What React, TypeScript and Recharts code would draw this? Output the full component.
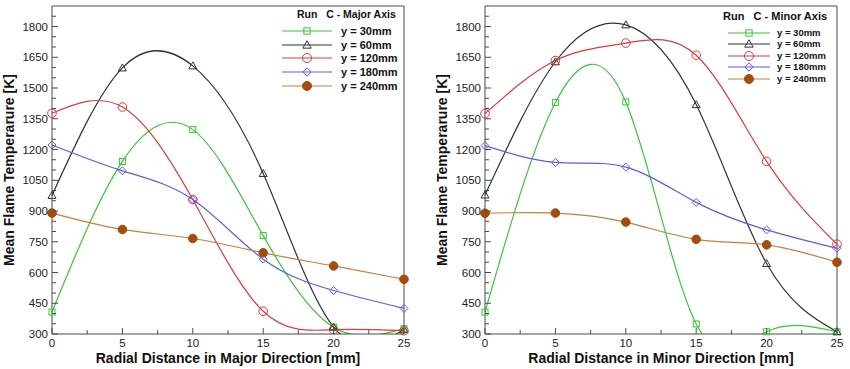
import { LineChart, Line, XAxis, YAxis, Label } from "recharts";

// ==============================
// DATA
// ==============================
const radialDistance = [0, 5, 10, 15, 20, 25];

const seriesLabels = ["y = 30mm", "y = 60mm", "y = 120mm", "y = 180mm", "y = 240mm"];

// Major axis
const majorY30 = [407, 1142, 1297, 780, 333, 326];
const majorY60 = [976, 1598, 1608, 1083, 334, 321];
const majorY120 = [1377, 1407, 956, 411, 321, 316];
const majorY180 = [1222, 1096, 956, 665, 512, 425];
const majorY240 = [890, 810, 766, 696, 632, 567];

// Minor axis
const minorY30 = [407, 1429, 1432, 349, 311, 311];
const minorY60 = [978, 1628, 1808, 1419, 644, 311];
const minorY120 = [1375, 1634, 1719, 1660, 1142, 738];
const minorY180 = [1219, 1137, 1114, 942, 808, 718];
const minorY240 = [889, 890, 846, 762, 735, 650];

const xTicks = [0, 2.5, 5, 7.5, 10, 12.5, 15, 17.5, 20, 22.5, 25];
const yTicks = [
    300, 350, 400, 450, 500, 550, 600, 650, 700, 750, 800, 850, 900, 950, 1000, 1050,
    1100, 1150, 1200, 1250, 1300, 1350, 1400, 1450, 1500, 1550, 1600, 1650, 1700,
    1750, 1800, 1850
];

const FONT = "'Liberation Sans', Arial, Helvetica, sans-serif";
const AXIS = "#4a4a4a";

type Kind = "square" | "triangle" | "circle" | "diamond" | "dot";

const STYLES: { key: string; kind: Kind; color: string; fill: string }[] = [
    { key: "y30", kind: "square", color: "#35c935", fill: "none" },
    { key: "y60", kind: "triangle", color: "#333333", fill: "none" },
    { key: "y120", kind: "circle", color: "#e03a3a", fill: "none" },
    { key: "y180", kind: "diamond", color: "#5b5bef", fill: "none" },
    { key: "y240", kind: "dot", color: "#c0813f", fill: "#a24d0c" }
];

const buildRows = (cols: number[][]) =>
    radialDistance.map((x, i) => ({
        x,
        y30: cols[0][i],
        y60: cols[1][i],
        y120: cols[2][i],
        y180: cols[3][i],
        y240: cols[4][i]
    }));

const majorData = buildRows([majorY30, majorY60, majorY120, majorY180, majorY240]);
const minorData = buildRows([minorY30, minorY60, minorY120, minorY180, minorY240]);

// ==============================
// MARKERS
// ==============================
function Marker({ kind, cx, cy, color, fill, s = 1 }: any) {
    if (kind === "square") {
        const h = 3 * s;
        return <rect x={cx - h} y={cy - h} width={2 * h} height={2 * h} fill="none" stroke={color} strokeWidth={1} />;
    }
    if (kind === "triangle") {
        const h = 4 * s;
        return (
            <path
                d={`M${cx},${cy - h} L${cx + h},${cy + h * 0.75} L${cx - h},${cy + h * 0.75} Z`}
                fill="none"
                stroke={color}
                strokeWidth={1}
            />
        );
    }
    if (kind === "circle") {
        return <circle cx={cx} cy={cy} r={4.3 * s} fill="none" stroke={color} strokeWidth={1} />;
    }
    if (kind === "diamond") {
        const h = 4 * s;
        return (
            <path
                d={`M${cx},${cy - h} L${cx + h},${cy} L${cx},${cy + h} L${cx - h},${cy} Z`}
                fill="none"
                stroke={color}
                strokeWidth={1}
            />
        );
    }
    return <circle cx={cx} cy={cy} r={4.3 * s} fill={fill} stroke={fill} strokeWidth={1} />;
}

// ==============================
// TICKS
// ==============================
const XTick = (p: any) => {
    const v = p.payload.value;
    const major = v % 5 === 0;
    const x = p.payload.coordinate ?? p.x;
    return (
        <g>
            <line x1={x} x2={x} y1={p.y} y2={p.y - (major ? 6 : 4)} stroke={AXIS} />
            {major && (
                <text x={x} y={p.y + 13} textAnchor="middle" fontSize={11.5} fontFamily={FONT} fill="#222">
                    {v}
                </text>
            )}
        </g>
    );
};

const YTick = (p: any) => {
    const v = p.payload.value;
    const major = v % 150 === 0;
    return (
        <g>
            <line x1={p.x} x2={p.x + (major ? 6 : 4)} y1={p.y} y2={p.y} stroke={AXIS} />
            {major && (
                <text x={p.x - 4} y={p.y} dy="0.36em" textAnchor="end" fontSize={11.5} fontFamily={FONT} fill="#222">
                    {v}
                </text>
            )}
        </g>
    );
};

// ==============================
// LEGEND
// ==============================
type LegendProps = {
    title: string;
    titleLeft: number;
    titleY: number;
    titleSize: number;
    rowY: number;
    rowGap: number;
    lineLeft: number;
    lineWidth: number;
    textLeft: number;
    textSize: number;
};

function LegendBox(p: LegendProps) {
    return (
        <div style={{ position: "absolute", left: 0, top: 0, fontFamily: FONT, fontWeight: 700, color: "#111" }}>
            <div
                style={{
                    position: "absolute",
                    left: p.titleLeft,
                    top: p.titleY - 8,
                    height: 16,
                    lineHeight: "16px",
                    fontSize: p.titleSize,
                    whiteSpace: "pre"
                }}
            >
                {p.title}
            </div>
            {STYLES.map((st, i) => {
                const cy = p.rowY + i * p.rowGap;
                return (
                    <div key={st.key}>
                        <svg
                            width={p.lineWidth}
                            height={12}
                            style={{ position: "absolute", left: p.lineLeft, top: cy - 6, overflow: "visible" }}
                        >
                            <line x1={0} x2={p.lineWidth} y1={6} y2={6} stroke={st.color} strokeWidth={1.2} />
                            <Marker kind={st.kind} cx={p.lineWidth / 2} cy={6} color={st.color} fill={st.fill} s={1.05} />
                        </svg>
                        <div
                            style={{
                                position: "absolute",
                                left: p.textLeft,
                                top: cy - 7,
                                height: 14,
                                lineHeight: "14px",
                                fontSize: p.textSize,
                                whiteSpace: "pre"
                            }}
                        >
                            {seriesLabels[i]}
                        </div>
                    </div>
                );
            })}
        </div>
    );
}

// ==============================
// ONE PANEL
// ==============================
function Panel({ data, xTitle, left, right }: any) {
    return (
        <LineChart width={425} height={369} data={data} margin={{ top: 0, right: 0, bottom: 0, left: 0 }}>
            <XAxis
                dataKey="x"
                type="number"
                domain={[0, 25]}
                ticks={xTicks}
                interval={0}
                height={35}
                tickSize={0}
                tickMargin={0}
                tickLine={false}
                tick={XTick}
                axisLine={{ stroke: AXIS }}
            >
                <Label
                    content={(lp: any) => (
                        <text
                            x={lp.viewBox.x + lp.viewBox.width / 2}
                            y={lp.viewBox.y + 29}
                            textAnchor="middle"
                            fontSize={14}
                            fontWeight={700}
                            fontFamily={FONT}
                            fill="#111"
                        >
                            {xTitle}
                        </text>
                    )}
                />
            </XAxis>
            <XAxis
                xAxisId="frame"
                orientation="top"
                type="number"
                domain={[0, 25]}
                height={6}
                tick={false}
                tickLine={false}
                axisLine={{ stroke: AXIS }}
            />
            <YAxis
                yAxisId="main"
                orientation="left"
                type="number"
                domain={[300, 1900]}
                ticks={yTicks}
                interval={0}
                width={left}
                tickSize={0}
                tickMargin={0}
                tickLine={false}
                tick={YTick}
                axisLine={{ stroke: AXIS }}
            >
                <Label
                    content={(lp: any) => {
                        const cx = lp.viewBox.x + lp.viewBox.width - 43;
                        const cy = lp.viewBox.y + lp.viewBox.height / 2;
                        return (
                            <text
                                x={cx}
                                y={cy}
                                transform={`rotate(-90 ${cx} ${cy})`}
                                textAnchor="middle"
                                dy="0.36em"
                                fontSize={14}
                                fontWeight={700}
                                fontFamily={FONT}
                                fill="#111"
                            >
                                Mean Flame Temperarure [K]
                            </text>
                        );
                    }}
                />
            </YAxis>
            <YAxis
                yAxisId="frame"
                orientation="right"
                type="number"
                domain={[300, 1900]}
                allowDataOverflow
                width={right}
                tick={false}
                tickLine={false}
                axisLine={{ stroke: AXIS }}
            />

            {/* CURVES (clipped to plot) */}
            {STYLES.map((st) => (
                <Line
                    key={`c-${st.key}`}
                    yAxisId="frame"
                    type="natural"
                    dataKey={st.key}
                    stroke={st.color}
                    strokeWidth={1.2}
                    dot={false}
                    activeDot={false}
                    isAnimationActive={false}
                />
            ))}

            {/* MARKERS (not clipped) */}
            {STYLES.map((st) => (
                <Line
                    key={`m-${st.key}`}
                    yAxisId="main"
                    type="linear"
                    dataKey={st.key}
                    stroke="none"
                    activeDot={false}
                    isAnimationActive={false}
                    dot={(dp: any) => (
                        <Marker key={`${st.key}-${dp.index}`} kind={st.kind} cx={dp.cx} cy={dp.cy} color={st.color} fill={st.fill} />
                    )}
                />
            ))}
        </LineChart>
    );
}

export default function App() {
    return (
        <div style={{ position: "fixed", left: 0, top: 0, width: 850, height: 369, background: "#fff" }}>
            <div style={{ position: "absolute", left: 0, top: 0 }}>
                <Panel data={majorData} xTitle="Radial Distance in Major Direction [mm]" left={52} right={21} />
                <LegendBox
                    title="Run   C - Major Axis"
                    titleLeft={297}
                    titleY={14.3}
                    titleSize={10.5}
                    rowY={31}
                    rowGap={13.7}
                    lineLeft={282}
                    lineWidth={50}
                    textLeft={341}
                    textSize={11}
                />
            </div>
            <div style={{ position: "absolute", left: 425, top: 0 }}>
                <Panel data={minorData} xTitle="Radial Distance in Minor Direction [mm]" left={60} right={13} />
                <LegendBox
                    title="Run   C - Minor Axis"
                    titleLeft={298}
                    titleY={15.7}
                    titleSize={11}
                    rowY={33}
                    rowGap={11.4}
                    lineLeft={303}
                    lineWidth={42}
                    textLeft={352}
                    textSize={9.5}
                />
            </div>
        </div>
    );
}
